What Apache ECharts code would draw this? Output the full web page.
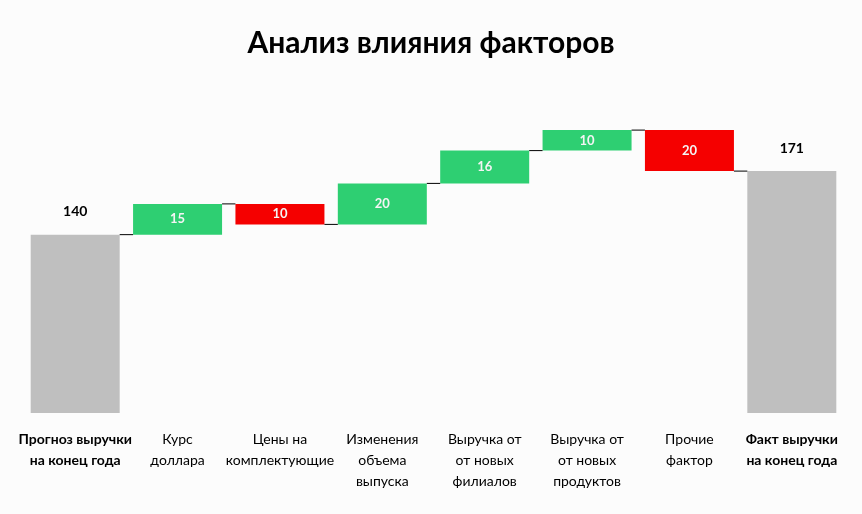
<!DOCTYPE html>
<html>
<head>
<meta charset="utf-8">
<script src="https://cdn.jsdelivr.net/npm/echarts@6/dist/echarts.min.js"></script>
<style>
  html, body { margin: 0; padding: 0; background: #fcfcfc; }
  #chart { width: 862px; height: 514px; }
</style>
</head>
<body>
<div id="chart"></div>
<script>
  // waterfall data
  const categories = [
    'Прогноз выручки\nна конец года',
    'Курс\nдоллара',
    'Цены на\nкомплектующие',
    'Изменения\nобъема\nвыпуска',
    'Выручка от\nот новых\nфилиалов',
    'Выручка от\nот новых\nпродуктов',
    'Прочие\nфактор',
    'Факт выручки\nна конец года',
  ];
  const startValue = 140;
  const changes = [15, -10, 20, 16, 10, -20];
  const endValue = 171;

  const GREEN = '#2ecf72';
  const RED = '#f50000';
  const GRAY = '#bfbfbf';

  // build stacked bar data: invisible base + visible part
  const baseData = [];
  const barData = [];
  const levels = []; // level after each column, for connectors
  baseData.push(0);
  barData.push({
    value: startValue,
    itemStyle: { color: GRAY },
    label: { show: true, position: 'top', distance: 16, color: '#000', fontSize: 14 },
  });
  levels.push(startValue);
  let cur = startValue;
  changes.forEach((c) => {
    const next = cur + c;
    baseData.push(Math.min(cur, next));
    barData.push({
      value: Math.abs(c),
      itemStyle: { color: c >= 0 ? GREEN : RED },
      label: { show: true, position: 'inside', color: '#f4f4f4', fontSize: 13 },
    });
    cur = next;
    levels.push(cur);
  });
  baseData.push(0);
  barData.push({
    value: endValue,
    itemStyle: { color: GRAY },
    label: { show: true, position: 'top', distance: 16, color: '#000', fontSize: 14 },
  });

  const connectorData = levels.map((v, i) => [i, v]);

  const chart = echarts.init(document.getElementById('chart'));
  chart.setOption({
    backgroundColor: '#fcfcfc',
    animation: false,
    textStyle: { fontFamily: 'Lato' },
    title: {
      text: 'Анализ влияния факторов',
      left: 'center',
      top: 23,
      textStyle: { fontFamily: 'Lato', fontSize: 30, fontWeight: 'bold', color: '#000' },
    },
    grid: { left: 24, right: 19, top: 85, bottom: 101 },
    xAxis: {
      type: 'category',
      data: categories,
      axisLine: { show: false },
      axisTick: { show: false },
      axisLabel: {
        interval: 0,
        margin: 16,
        color: '#000',
        fontSize: 14,
        lineHeight: 21,
        formatter: (v, i) => (i === 0 || i === categories.length - 1 ? '{b|' + v + '}' : v),
        rich: {
          b: { fontWeight: 'bold', fontSize: 14, lineHeight: 21, color: '#000' },
        },
      },
    },
    yAxis: {
      type: 'value',
      min: 53,
      max: 213,
      show: false,
      splitLine: { show: false },
    },
    series: [
      {
        type: 'bar',
        stack: 'w',
        barWidth: 89,
        itemStyle: { color: 'transparent' },
        data: baseData,
        silent: true,
      },
      {
        type: 'bar',
        stack: 'w',
        barWidth: 89,
        label: { fontWeight: 'bold', fontFamily: 'Lato' },
        data: barData,
      },
      {
        type: 'custom',
        data: connectorData,
        renderItem: (params, api) => {
          const i = api.value(0);
          const v = api.value(1);
          const half = 89 / 2;
          const p1 = api.coord([i, v]);
          const p2 = api.coord([i + 1, v]);
          return {
            type: 'line',
            shape: { x1: p1[0] + half, y1: p1[1], x2: p2[0] - half, y2: p2[1] },
            style: { stroke: '#000', lineWidth: 1 },
          };
        },
        z: 3,
      },
    ],
  });
</script>
</body>
</html>
